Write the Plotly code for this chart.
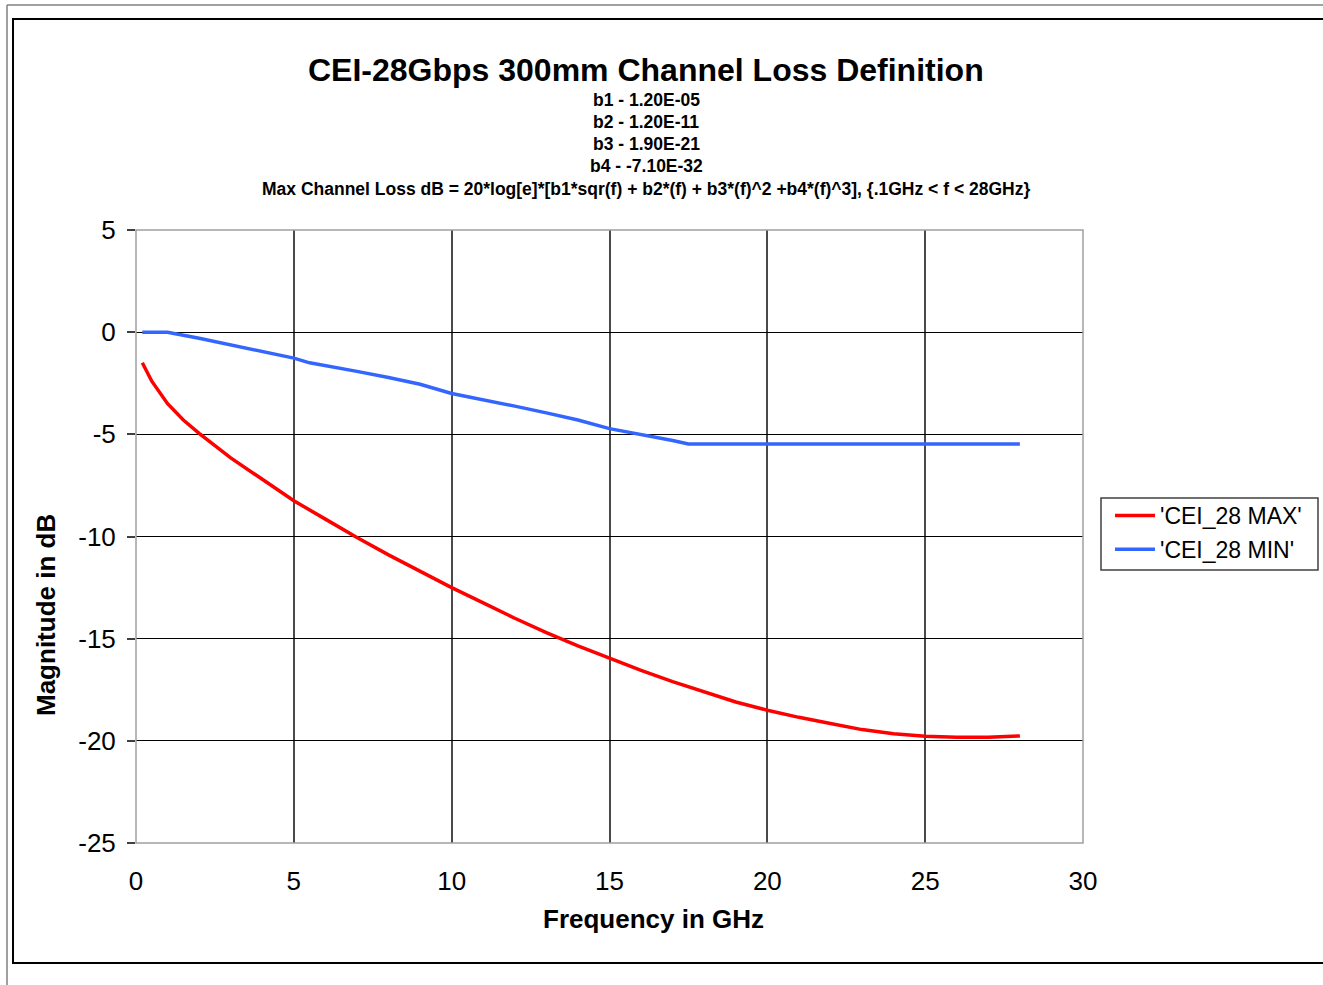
import plotly.graph_objects as go

# ---- data ----
max_freq = [0.2, 0.5, 1, 1.5, 2, 3, 4, 5, 6, 7, 8, 9, 10, 11, 12, 13, 14, 15,
            16, 17, 18, 19, 20, 21, 22, 23, 24, 25, 26, 27, 28]
max_loss = [-1.5, -2.4, -3.5, -4.3, -4.95, -6.15, -7.2, -8.25, -9.15, -10.05, -10.9,
            -11.7, -12.5, -13.25, -14.0, -14.7, -15.35, -15.95, -16.55, -17.1, -17.6,
            -18.1, -18.5, -18.85, -19.15, -19.45, -19.65, -19.77, -19.83, -19.83, -19.76]

min_freq = [0.2, 1, 2, 3, 4, 5, 5.5, 6, 7, 8, 9, 10, 11, 12, 13, 14, 15, 16, 17, 17.5,
            18, 20, 22, 24, 26, 28]
min_loss = [0.0, 0.0, -0.3, -0.62, -0.94, -1.27, -1.5, -1.63, -1.92, -2.22, -2.55, -3.0,
            -3.3, -3.62, -3.95, -4.3, -4.72, -5.0, -5.3, -5.47, -5.47, -5.47, -5.47,
            -5.47, -5.47, -5.47]

x_ticks = [0, 5, 10, 15, 20, 25, 30]
y_ticks = [5, 0, -5, -10, -15, -20, -25]

title_text = "CEI-28Gbps 300mm Channel Loss Definition"
sub_lines = ["b1 - 1.20E-05", "b2 - 1.20E-11", "b3 - 1.90E-21", "b4 - -7.10E-32",
             "Max Channel Loss dB = 20*log[e]*[b1*sqr(f) + b2*(f) + b3*(f)^2 +b4*(f)^3], {.1GHz < f < 28GHz}"]

W, H = 1323, 985
OFF = 0  # page offset of the plot div (body margin removed below)
L, R, T, B = 136, 1083, 230, 843  # plot area in page pixels
FONT = "Liberation Sans, Arial, sans-serif"


def px(x):
    return (x - L) / (R - L)


def py(y):
    return (B - y) / (B - T)


fig = go.Figure()
fig.add_trace(go.Scatter(x=max_freq, y=max_loss, mode="lines", name="'CEI_28 MAX'",
                         legendgroup="a", line=dict(color="#ff0000", width=3.5)))
fig.add_trace(go.Scatter(x=min_freq, y=min_loss, mode="lines", name="'CEI_28 MIN'",
                         legendgroup="b", line=dict(color="#3366ff", width=3.5)))

annotations = [
    dict(text="<b>" + title_text + "</b>", x=px(646), y=py(70), xref="paper", yref="paper",
         showarrow=False, font=dict(family=FONT, size=32, color="black"),
         xanchor="center", yanchor="middle"),
]
sub_y = [100, 122, 144, 166, 189]
for t, yy in zip(sub_lines, sub_y):
    annotations.append(dict(text="<b>" + t + "</b>", x=px(646), y=py(yy), xref="paper", yref="paper",
                            showarrow=False,
                            font=dict(family=FONT, size=17.5, color="black"),
                            xanchor="center", yanchor="middle"))
annotations.append(dict(text="<b>Frequency in GHz</b>", x=px(653), y=py(919), xref="paper", yref="paper",
                        showarrow=False, font=dict(family=FONT, size=26, color="black"),
                        xanchor="center", yanchor="middle"))
annotations.append(dict(text="<b>Magnitude in dB</b>", x=px(46), y=py(615), xref="paper", yref="paper",
                        showarrow=False, textangle=-90, font=dict(family=FONT, size=26, color="black"),
                        xanchor="center", yanchor="middle"))

shapes = [
    dict(type="rect", xref="paper", yref="paper", x0=0, x1=1, y0=0, y1=1,
         line=dict(color="#a0a0a0", width=1.5), layer="above"),
    dict(type="rect", xref="paper", yref="paper", x0=px(13), x1=px(1340), y0=py(963), y1=py(19),
         line=dict(color="black", width=2)),
    dict(type="line", xref="paper", yref="paper", x0=px(7), x1=px(7), y0=py(5), y1=py(1000),
         line=dict(color="#808080", width=1.5)),
    dict(type="line", xref="paper", yref="paper", x0=px(7), x1=px(1340), y0=py(5), y1=py(5),
         line=dict(color="#808080", width=1.5)),
    # legend box
    dict(type="rect", xref="paper", yref="paper", x0=px(1101), x1=px(1318), y0=py(570), y1=py(498),
         line=dict(color="#404040", width=1.5), fillcolor="white", layer="below"),
]

fig.update_layout(
    width=W, height=H,
    margin=dict(l=L - OFF, r=W - (R - OFF), t=T - OFF, b=H - (B - OFF)),
    paper_bgcolor="white", plot_bgcolor="white",
    font=dict(family=FONT, color="black"),
    annotations=annotations,
    shapes=shapes,
    showlegend=True,
    legend=dict(x=px(1110), y=py(494), xanchor="left", yanchor="top",
                bgcolor="rgba(0,0,0,0)", borderwidth=0,
                font=dict(family=FONT, size=23, color="black"),
                itemwidth=40, tracegroupgap=1, traceorder="grouped"),
)
fig.update_xaxes(range=[0, 30], tickvals=x_ticks, ticktext=[str(v) for v in x_ticks],
                 showgrid=True, gridcolor="#4a4a4a", gridwidth=1.5, zeroline=False,
                 showline=False, ticks="", tickfont=dict(family=FONT, size=26, color="black"),
                 ticklabelstandoff=20, fixedrange=True)
fig.update_yaxes(range=[-25, 5], tickvals=y_ticks, ticktext=[str(v) for v in y_ticks],
                 showgrid=True, gridcolor="black", gridwidth=1, zeroline=False,
                 showline=False, ticks="outside", ticklen=8, tickcolor="#404040", tickwidth=1.5,
                 tickfont=dict(family=FONT, size=26, color="black"),
                 ticklabelstandoff=6, fixedrange=True)

fig.write_html(
    "out.html",
    config={"displayModeBar": False},
    post_script="document.body.style.margin='0';document.body.style.overflow='hidden';"
                "document.documentElement.style.overflow='hidden';",
)
